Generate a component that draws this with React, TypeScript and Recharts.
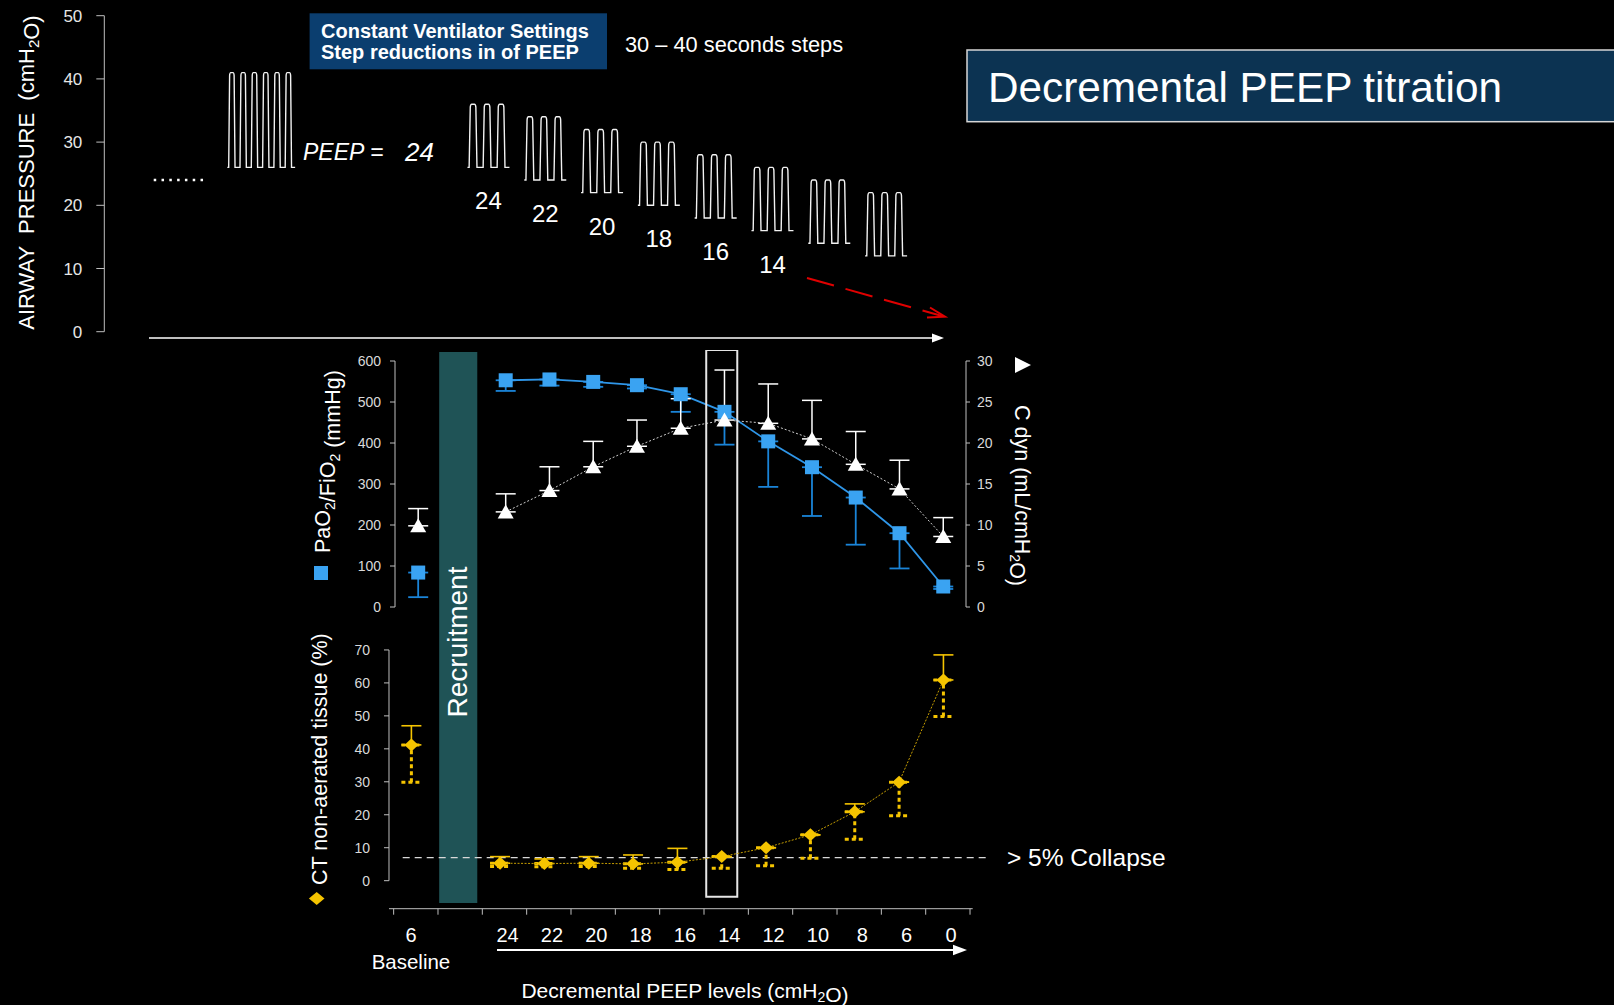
import React from "react";
import {
  ComposedChart,
  Line,
  Bar,
  XAxis,
  YAxis,
  ErrorBar,
  ReferenceLine,
  ReferenceArea
} from "recharts";

const FONT = "'Liberation Sans', Arial, Helvetica, sans-serif";

// lower panels: index 0 = baseline, 1 = recruitment manoeuvre, 2.. = decremental PEEP steps
const stages = ["Baseline", "Recruitment", "24", "22", "20", "18", "16", "14", "12", "10", "8", "6", "0"];
const baselinePeep = "6";

const pfRatio = [84, null, 553, 555, 549, 541, 519, 476, 404, 341, 267, 180, 50];
const pfErrLow = [60, null, 26, 15, 12, 8, 43, 80, 111, 119, 115, 86, 6];
const cdyn = [9.9, null, 11.6, 14.2, 17.1, 19.6, 21.8, 22.8, 22.4, 20.5, 17.4, 14.4, 8.6];
const cdynErrHigh = [2.1, null, 2.2, 2.9, 3.1, 3.2, 3.6, 6.1, 4.8, 4.7, 4.0, 3.5, 2.3];
const ctNonAerated = [41.2, null, 5.3, 5.2, 5.3, 5.1, 5.6, 7.3, 10.0, 13.9, 20.9, 29.9, 60.9];
const ctErrHigh = [5.8, null, 2.0, 1.4, 2.0, 2.7, 4.2, 0, 0, 0, 2.4, 0, 7.6];
const ctErrLow = [11.3, null, 1.0, 1.0, 1.0, 1.3, 2.2, 3.5, 5.5, 7.1, 8.3, 10.2, 11.1];
const collapseLine = 7;

// airway pressure schematic (top panel)
const waveStep = [-3, 1, 2, 3, 4, 5, 6, 7, 8];
const wavePeep = [26, 26, 24, 22, 20, 18, 16, 14, 12];
const wavePeak = [41, 36, 34, 32, 30, 28, 26, 24, 22];
const waveCycles = [6, 3, 3, 3, 3, 3, 3, 3, 3];
const waveLabels = ["", "24", "22", "20", "18", "16", "14", "", ""];

const rows = stages.map((stage, i) => ({
  i,
  stage,
  pf: pfRatio[i],
  pfErr: [pfErrLow[i], 0],
  cdyn: cdyn[i],
  cdynErr: [0, cdynErrHigh[i]],
  ct: ctNonAerated[i],
  ctUp: [0, ctErrHigh[i]],
  ctDown: [ctErrLow[i], 0]
}));
const baseRows = rows.filter((r) => r.i === 0);
const stepRows = rows.filter((r) => r.i >= 2);
// the baseline label sits a little left of its column
const labelTicks = [-0.18, ...stepRows.map((r) => r.i)];

const waveRows = waveStep.map((k, i) => ({
  k,
  range: [wavePeep[i], wavePeak[i]],
  cycles: waveCycles[i],
  label: waveLabels[i]
}));

const GRAY = "#bfbfbf";
const TICK_TXT = "#d9d9d9";
const BLUE = "#3aa3f2";
const GOLD = "#f5c400";
const X_DOMAIN: [number, number] = [-0.505, 12.66];
const LABEL_SHIFT = 0.17;

function Wave(props: any) {
  const { x, y, width, height, payload } = props;
  if (x == null || height == null) return null;
  const n = payload.cycles;
  const cw = n > 3 ? 11.3 : 14;
  const w = n * cw;
  const cx = x + width / 2;
  const left = cx - w / 2;
  const top = y;
  const bot = y + height;
  let d = `M${left},${bot}`;
  for (let c = 0; c < n; c++) {
    const a = left + c * cw;
    d += ` L${a + 0.12 * cw},${bot} L${a + 0.2 * cw},${top + 3} Q${a + 0.22 * cw},${top} ${a + 0.3 * cw},${top}`;
    d += ` L${a + 0.5 * cw},${top} Q${a + 0.58 * cw},${top} ${a + 0.6 * cw},${top + 3} L${a + 0.68 * cw},${bot}`;
  }
  d += ` L${left + w},${bot}`;
  return (
    <g>
      <path d={d} fill="none" stroke="#f2f2f2" strokeWidth={1.4} />
      {payload.label ? (
        <text x={cx} y={bot + 42} textAnchor="middle" fill="#fff" fontSize={24} fontFamily={FONT}>
          {payload.label}
        </text>
      ) : null}
    </g>
  );
}

const squareDot = (p: any) =>
  p.cx == null || p.cy == null ? <g key={p.index} /> : (
    <rect key={p.index} x={p.cx - 7} y={p.cy - 7} width={14} height={14} fill={BLUE} />
  );

const triangleDot = (p: any) =>
  p.cx == null || p.cy == null ? <g key={p.index} /> : (
    <polygon
      key={p.index}
      points={`${p.cx},${p.cy - 7.5} ${p.cx - 8},${p.cy + 6.5} ${p.cx + 8},${p.cy + 6.5}`}
      fill="#fff"
    />
  );

const diamondDot = (p: any) =>
  p.cx == null || p.cy == null ? <g key={p.index} /> : (
    <polygon
      key={p.index}
      points={`${p.cx},${p.cy - 6.5} ${p.cx + 7},${p.cy} ${p.cx},${p.cy + 6.5} ${p.cx - 7},${p.cy}`}
      fill={GOLD}
    />
  );

function PeepTick(props: any) {
  const { x, y, payload } = props;
  const isBase = payload.value < 1;
  const label = isBase ? baselinePeep : stages[payload.value];
  return (
    <g>
      <text x={x} y={y} dy="0.71em" textAnchor="middle" fill="#fff" fontSize={20} fontFamily={FONT}>
        {label}
      </text>
      {isBase ? (
        <text x={x} y={y + 27.4} dy="0.71em" textAnchor="middle" fill="#fff" fontSize={20.5} fontFamily={FONT}>
          Baseline
        </text>
      ) : null}
    </g>
  );
}

const sub = (t: string, size: number, shift = 5) => (
  <>
    <tspan fontSize={size} dy={shift}>{t}</tspan>
    <tspan dy={-shift}>{""}</tspan>
  </>
);

export default function App() {
  const yTick = { fill: TICK_TXT, fontSize: 14, fontFamily: FONT };
  return (
    <div
      style={{
        position: "absolute",
        left: 0,
        top: 0,
        width: 1614,
        height: 1005,
        background: "#000",
        overflow: "hidden",
        fontFamily: FONT
      }}
    >
      {/* airway pressure schematic */}
      <div style={{ position: "absolute", left: 0, top: 0 }}>
        <ComposedChart width={960} height={345} data={waveRows} margin={{ top: 15.7, right: 15, bottom: 13.3, left: 0 }}>
          <XAxis type="number" dataKey="k" domain={[-5.77, 9.03]} hide allowDataOverflow />
          <YAxis
            width={104.3}
            domain={[0, 50]}
            ticks={[0, 10, 20, 30, 40, 50]}
            allowDataOverflow
            tickSize={8}
            tickMargin={14}
            axisLine={{ stroke: GRAY }}
            tickLine={{ stroke: GRAY }}
            tick={{ fill: "#e6e6e6", fontSize: 17, fontFamily: FONT }}
          />
          <Bar dataKey="range" barSize={42} shape={(p: any) => <Wave {...p} />} isAnimationActive={false} />
          <ReferenceLine
            segment={[{ x: -4.9, y: 24 }, { x: -3.98, y: 24 }]}
            stroke="#fff"
            strokeWidth={2.5}
            strokeDasharray="2.5 5.3"
            ifOverflow="visible"
          />
        </ComposedChart>
      </div>

      {/* PaO2/FiO2 and dynamic compliance */}
      <div style={{ position: "absolute", left: 335, top: 350.7 }}>
        <ComposedChart width={691} height={266} margin={{ top: 10, right: 0, bottom: 10, left: 0 }}>
          <XAxis type="number" dataKey="i" domain={[-0.53, 12.52]} hide allowDataOverflow />
          <YAxis
            yAxisId="pf"
            width={60}
            domain={[0, 600]}
            ticks={[0, 100, 200, 300, 400, 500, 600]}
            interval={0}
            allowDataOverflow
            tickSize={5}
            tickMargin={9}
            axisLine={{ stroke: GRAY }}
            tickLine={{ stroke: GRAY }}
            tick={yTick}
          />
          <YAxis
            yAxisId="cd"
            orientation="right"
            width={60}
            domain={[0, 30]}
            ticks={[0, 5, 10, 15, 20, 25, 30]}
            interval={0}
            allowDataOverflow
            tickSize={4}
            tickMargin={7}
            axisLine={{ stroke: GRAY }}
            tickLine={{ stroke: GRAY }}
            tick={yTick}
          />
          {[baseRows, stepRows].map((d, n) => (
            <Line
              key={"pf" + n}
              data={d}
              yAxisId="pf"
              dataKey="pf"
              stroke="#2f96e8"
              strokeWidth={1.8}
              dot={squareDot}
              activeDot={false}
              isAnimationActive={false}
            >
              <ErrorBar dataKey="pfErr" direction="y" width={10} stroke="#1a84d8" strokeWidth={1.8} />
            </Line>
          ))}
          {[baseRows, stepRows].map((d, n) => (
            <Line
              key={"cd" + n}
              data={d}
              yAxisId="cd"
              dataKey="cdyn"
              stroke="#cfcfcf"
              strokeWidth={1}
              strokeDasharray="2 2"
              dot={triangleDot}
              activeDot={false}
              isAnimationActive={false}
            >
              <ErrorBar dataKey="cdynErr" direction="y" width={10} stroke="#fff" strokeWidth={1.5} />
            </Line>
          ))}
        </ComposedChart>
      </div>

      {/* CT non-aerated tissue */}
      <div style={{ position: "absolute", left: 329.3, top: 350 }}>
        <ComposedChart width={823.7} height={640} margin={{ top: 0, right: 180, bottom: 0, left: 0 }}>
          <XAxis
            xAxisId="axisA"
            type="number"
            dataKey="i"
            domain={X_DOMAIN}
            allowDataOverflow
            ticks={Array.from({ length: 14 }, (_, k) => k - 0.4)}
            interval={0}
            tickFormatter={() => ""}
            tickSize={6}
            height={14}
            axisLine={{ stroke: GRAY }}
            tickLine={{ stroke: GRAY }}
          />
          <XAxis
            xAxisId="axisB"
            type="number"
            dataKey="i"
            domain={[X_DOMAIN[0] - LABEL_SHIFT, X_DOMAIN[1] - LABEL_SHIFT]}
            allowDataOverflow
            ticks={labelTicks}
            interval={0}
            tick={(p: any) => <PeepTick {...p} />}
            tickSize={0}
            tickMargin={4.7}
            height={67.3}
            axisLine={false}
            tickLine={false}
          />
          <YAxis
            width={60}
            domain={[-8.5, 161]}
            ticks={[0, 10, 20, 30, 40, 50, 60, 70]}
            interval={0}
            allowDataOverflow
            tickSize={5}
            tickMargin={14}
            axisLine={false}
            tickLine={{ stroke: GRAY }}
            tick={yTick}
          />
          <ReferenceArea
            xAxisId="axisA"
            x1={0.627}
            x2={1.486}
            y1={-6.77}
            y2={160.4}
            fill="#1f5356"
            fillOpacity={1}
            ifOverflow="visible"
          />
          <ReferenceArea
            xAxisId="axisA"
            x1={6.65}
            x2={7.35}
            y1={-4.85}
            y2={161}
            fill="none"
            stroke="#e6e6e6"
            strokeWidth={2}
            ifOverflow="visible"
          />
          <ReferenceLine
            xAxisId="axisA"
            segment={[{ x: X_DOMAIN[0], y: 0 }, { x: X_DOMAIN[0], y: 70 }]}
            stroke={GRAY}
            ifOverflow="visible"
          />
          <ReferenceLine
            xAxisId="axisA"
            segment={[{ x: -0.196, y: collapseLine }, { x: 12.99, y: collapseLine }]}
            stroke="#d9d9d9"
            strokeWidth={1.2}
            strokeDasharray="7 5"
            ifOverflow="visible"
          />
          {/* invisible series that anchors the label axis */}
          <Line
            xAxisId="axisB"
            data={rows}
            dataKey="ct"
            stroke="none"
            dot={false}
            activeDot={false}
            legendType="none"
            isAnimationActive={false}
          />
          {[baseRows, stepRows].map((d, n) => (
            <Line
              key={"ct" + n}
              data={d}
              xAxisId="axisA"
              dataKey="ct"
              stroke="#c79f00"
              strokeWidth={1}
              strokeDasharray="2 1.5"
              dot={diamondDot}
              activeDot={false}
              isAnimationActive={false}
            >
              <ErrorBar dataKey="ctUp" direction="y" width={10} stroke={GOLD} strokeWidth={1.6} />
              <ErrorBar dataKey="ctDown" direction="y" width={10} stroke={GOLD} strokeWidth={3} strokeDasharray="4 3" />
            </Line>
          ))}
        </ComposedChart>
      </div>

      {/* titles, annotations and arrows */}
      <svg
        width={1614}
        height={1005}
        style={{ position: "absolute", left: 0, top: 0, pointerEvents: "none" }}
        fontFamily={FONT}
      >
        <text
          x={33.5}
          y={172.5}
          transform="rotate(-90 33.5 172.5)"
          textAnchor="middle"
          fontSize={22}
          fill="#fff"
          style={{ whiteSpace: "pre" }}
        >
          AIRWAY  PRESSURE  (cmH{sub("2", 15)}O)
        </text>

        <rect x={309.6} y={13.3} width={297.4} height={56} fill="#0b3e6f" />
        <text x={321} y={37.7} fontSize={20} fontWeight="bold" fill="#fff">Constant Ventilator Settings</text>
        <text x={321} y={59.3} fontSize={20} fontWeight="bold" fill="#fff">Step reductions in of PEEP</text>
        <text x={625} y={52} fontSize={21.8} fill="#fff">30 – 40 seconds steps</text>

        <rect x={967} y={50} width={660} height={71.7} fill="#0c3352" stroke="#d6d6d6" strokeWidth={1.5} />
        <text x={988} y={102} fontSize={42.3} fill="#fff">
          Decremental PEEP titration
        </text>

        <text x={303} y={160} fontSize={23} fontStyle="italic" fill="#fff">PEEP =</text>
        <text x={405} y={161} fontSize={26} fontStyle="italic" fill="#fff">24</text>

        <line x1={149} y1={338} x2={934} y2={338} stroke="#fff" strokeWidth={1.5} />
        <polygon points="932,333.5 944,338 932,342.5" fill="#fff" />

        <line x1={807} y1={278} x2={942} y2={316} stroke="#e00000" strokeWidth={2} strokeDasharray="28 12" />
        <polyline points="930,307.5 945,316.7 927,317.5" fill="none" stroke="#e00000" strokeWidth={2} />

        <rect x={314} y={566} width={14} height={14} fill={BLUE} />
        <text x={330} y={553} transform="rotate(-90 330 553)" fontSize={21.5} fill="#fff">
          PaO{sub("2", 14)}/FiO{sub("2", 14)} (mmHg)
        </text>

        <polygon points="1015,357 1031,365 1015,373" fill="#fff" />
        <text x={1015} y={405} transform="rotate(90 1015 405)" fontSize={21.5} fill="#fff">
          C dyn (mL/cmH{sub("2", 14)}O)
        </text>

        <polygon points="316.7,892 324.5,898.5 316.7,905 308.9,898.5" fill={GOLD} />
        <text x={327} y={885} transform="rotate(-90 327 885)" fontSize={21.5} fill="#fff">
          CT non-aerated tissue (%)
        </text>

        <text x={466.7} y={642} transform="rotate(-90 466.7 642)" textAnchor="middle" fontSize={28} fill="#fff">
          Recruitment
        </text>

        <text x={1007} y={866} fontSize={24.5} fill="#fff">&gt; 5% Collapse</text>

        <line x1={497} y1={950} x2={955} y2={950} stroke="#fff" strokeWidth={2} />
        <polygon points="953,944.8 967,950 953,955.2" fill="#fff" />
        <text x={685} y={997.5} textAnchor="middle" fontSize={21} fill="#fff">
          Decremental PEEP levels (cmH{sub("2", 14, 4)}O)
        </text>
      </svg>
    </div>
  );
}
